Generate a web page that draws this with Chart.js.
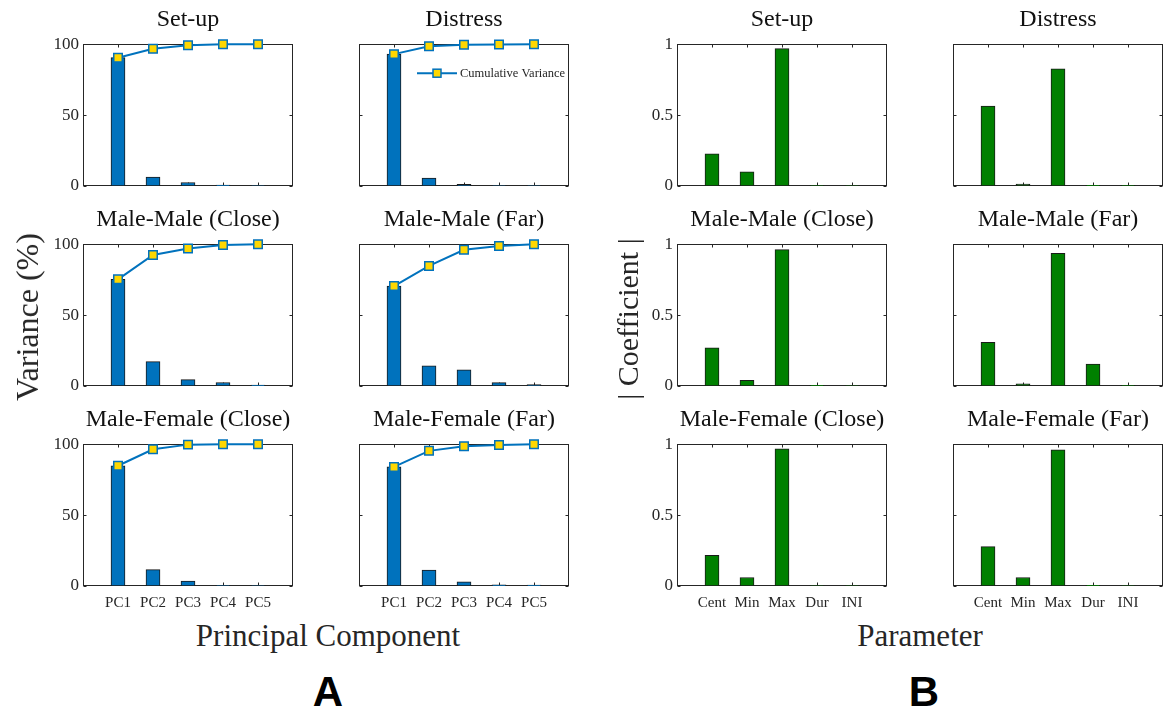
<!DOCTYPE html>
<html>
<head>
<meta charset="utf-8">
<script src="https://cdn.jsdelivr.net/npm/chart.js@4"></script>
<style>
  body { margin: 0; background: #fff; width: 1165px; height: 715px; position: relative; overflow: hidden; }
  canvas { position: absolute; }
  .txt { position: absolute; white-space: nowrap; line-height: 1; color: #262626; font-family: "Liberation Serif", serif; transform: translate(-50%, -50%); }
  .ttl { position: absolute; white-space: nowrap; line-height: 24px; height: 24px; color: #111; font-family: "Liberation Serif", serif; font-size: 24px; text-align: center; width: 260px; }
  .big { position: absolute; font-family: "Liberation Sans", Arial, sans-serif; font-weight: bold; font-size: 42px; color: #000; line-height: 1; transform: translate(-50%, -50%); }
</style>
</head>
<body>
<script>
// --- data ---
const pcLabels = ['PC1', 'PC2', 'PC3', 'PC4', 'PC5'];
const paramLabels = ['Cent', 'Min', 'Max', 'Dur', 'INI'];
const panelTitles = ['Set-up', 'Distress', 'Male-Male (Close)', 'Male-Male (Far)', 'Male-Female (Close)', 'Male-Female (Far)'];

// variance explained per component (%)
const varSetup   = [90.5, 6.3, 2.5, 0.6, 0.1];
const varDistress = [93.0, 5.6, 1.1, 0.2, 0.1];
const varMMClose = [75.2, 17.2, 4.5, 2.5, 0.6];
const varMMFar   = [70.5, 14.2, 11.4, 2.4, 1.0];
const varMFClose = [84.8, 11.6, 3.5, 0.3, 0.1];
const varMFFar   = [84.0, 11.3, 3.0, 0.8, 0.6];

// cumulative variance (%)
const cumSetup   = [90.5, 96.8, 99.3, 99.9, 100];
const cumDistress = [93.0, 98.6, 99.6, 99.8, 100];
const cumMMClose = [75.2, 92.4, 96.9, 99.4, 100];
const cumMMFar   = [70.5, 84.7, 96.1, 98.8, 100];
const cumMFClose = [84.8, 96.4, 99.7, 99.9, 100];
const cumMFFar   = [84.0, 95.3, 98.6, 99.4, 100];

// |coefficient| per parameter
const coefSetup   = [0.226, 0.10, 0.969, 0.003, 0.002];
const coefDistress = [0.563, 0.014, 0.826, 0.005, 0.004];
const coefMMClose = [0.27, 0.04, 0.962, 0.005, 0.002];
const coefMMFar   = [0.308, 0.016, 0.935, 0.155, 0.004];
const coefMFClose = [0.217, 0.06, 0.967, 0.001, 0.001];
const coefMFFar   = [0.278, 0.06, 0.96, 0.005, 0.002];

const varSets = [varSetup, varDistress, varMMClose, varMMFar, varMFClose, varMFFar];
const cumSets = [cumSetup, cumDistress, cumMMClose, cumMMFar, cumMFClose, cumMFFar];
const coefSets = [coefSetup, coefDistress, coefMMClose, coefMMFar, coefMFClose, coefMFFar];

// --- layout (plot box positions in the page) ---
const colsA = [83, 359];
const colsB = [677, 953];
const rowsY = [42, 242, 442];
const boxW = 210, boxH = 144;
const padL = 45, padT = 12, padR = 12, padB = 30;

const SERIF = '"Liberation Serif", "Times New Roman", serif';
const BLUE = '#0072BD';

// pad 5 values with empty slots on both ends so ticks sit at 1..5 of 0..6
function padded(arr) { return [null].concat(arr, [null]); }

// MATLAB-like box with inward ticks
const boxPlugin = {
    id: 'boxPlugin',
    beforeDatasetsDraw(chart) {
        const ctx = chart.ctx;
        const a = chart.chartArea;
        const xs = chart.scales.x, ys = chart.scales.y;
        ctx.save();
        ctx.strokeStyle = '#262626';
        ctx.lineWidth = 1;
        const L = Math.round(a.left) + 0.5, R = Math.round(a.right) - 0.5;
        const T = Math.round(a.top) + 0.5, B = Math.round(a.bottom) - 0.5;
        ctx.strokeRect(L, T, R - L, B - T);
        ctx.beginPath();
        for (let i = 1; i <= 5; i++) {
            const x = Math.round(xs.getPixelForValue(i)) + 0.5;
            ctx.moveTo(x, B); ctx.lineTo(x, B - 3);
            ctx.moveTo(x, T); ctx.lineTo(x, T + 3);
        }
        ys.ticks.forEach(t => {
            const y = Math.round(ys.getPixelForValue(t.value)) + 0.5;
            ctx.moveTo(L, y); ctx.lineTo(L + 3, y);
            ctx.moveTo(R, y); ctx.lineTo(R - 3, y);
        });
        ctx.stroke();
        ctx.restore();
    }
};

// legend for the cumulative line, drawn inside the Distress panel
const legendPlugin = {
    id: 'cumLegend',
    afterDraw(chart) {
        if (!chart.options.plugins.cumLegend || !chart.options.plugins.cumLegend.show) return;
        const ctx = chart.ctx;
        const a = chart.chartArea;
        const x0 = a.left + 58, y0 = a.top + 29;
        ctx.save();
        ctx.strokeStyle = BLUE;
        ctx.lineWidth = 2;
        ctx.beginPath();
        ctx.moveTo(x0, y0); ctx.lineTo(x0 + 40, y0);
        ctx.stroke();
        ctx.fillStyle = '#FFD700';
        ctx.lineWidth = 1.5;
        ctx.fillRect(x0 + 16, y0 - 4, 8, 8);
        ctx.strokeRect(x0 + 16, y0 - 4, 8, 8);
        ctx.fillStyle = '#262626';
        ctx.font = '12.5px ' + SERIF;
        ctx.textBaseline = 'middle';
        ctx.fillText('Cumulative Variance', x0 + 43, y0 + 1);
        ctx.restore();
    }
};

function makePanel(left, top, opts) {
    const cv = document.createElement('canvas');
    const W = padL + boxW + padR, H = padT + boxH + padB;
    cv.width = W; cv.height = H;
    cv.style.left = (left - padL) + 'px';
    cv.style.top = (top - padT) + 'px';
    cv.style.width = W + 'px'; cv.style.height = H + 'px';
    document.body.appendChild(cv);

    const datasets = [];
    if (opts.cum) {
        datasets.push({
            type: 'line',
            data: padded(opts.cum),
            borderColor: BLUE,
            borderWidth: 2,
            pointStyle: 'rect',
            pointRadius: 6,
            pointBorderWidth: 1.5,
            pointBorderColor: BLUE,
            pointBackgroundColor: '#FFD700',
            clip: false,
            order: 0
        });
    }
    datasets.push({
        type: 'bar',
        data: padded(opts.values),
        backgroundColor: opts.color,
        borderColor: '#1a1a1a',
        borderWidth: 1,
        borderSkipped: false,
        barThickness: 14,
        order: 1
    });

    new Chart(cv, {
        data: { labels: [''].concat(opts.labels, ['']), datasets: datasets },
        options: {
            responsive: false,
            animation: false,
            devicePixelRatio: 1,
            layout: { padding: { left: 0, top: padT, right: padR, bottom: 0 } },
            plugins: {
                legend: { display: false },
                tooltip: { enabled: false },
                cumLegend: { show: !!opts.legend }
            },
            scales: {
                x: {
                    type: 'category',
                    offset: false,
                    grid: { display: false, drawTicks: false },
                    border: { display: false },
                    afterFit: s => { s.height = padB; },
                    ticks: {
                        display: opts.showX,
                        autoSkip: false,
                        maxRotation: 0,
                        padding: 8,
                        color: '#262626',
                        font: { family: SERIF, size: 15 }
                    }
                },
                y: {
                    min: 0,
                    max: opts.max,
                    grid: { display: false, drawTicks: false },
                    border: { display: false },
                    afterFit: s => { s.width = padL; },
                    ticks: {
                        stepSize: opts.max / 2,
                        padding: 4,
                        color: '#262626',
                        font: { family: SERIF, size: 17 },
                        callback: v => opts.showY ? String(v) : ''
                    }
                }
            }
        },
        plugins: [boxPlugin, legendPlugin]
    });
}

function addText(cls, txt, x, y, style) {
    const d = document.createElement('div');
    d.className = cls;
    d.textContent = txt;
    d.style.left = x + 'px';
    d.style.top = y + 'px';
    Object.assign(d.style, style || {});
    document.body.appendChild(d);
}

for (let i = 0; i < 6; i++) {
    const r = Math.floor(i / 2), c = i % 2;
    const top = rowsY[r];
    // panel A: variance
    makePanel(colsA[c], top, {
        labels: pcLabels, values: varSets[i], cum: cumSets[i], color: BLUE,
        max: 100, showY: c === 0, showX: r === 2, legend: i === 1
    });
    // panel B: coefficients
    makePanel(colsB[c], top, {
        labels: paramLabels, values: coefSets[i], color: '#008000',
        max: 1, showY: c === 0, showX: r === 2
    });
    addText('ttl', panelTitles[i], colsA[c] + boxW / 2 - 130, top - 36);
    addText('ttl', panelTitles[i], colsB[c] + boxW / 2 - 130, top - 36);
}

addText('txt', 'Variance (%)', 27, 317, { fontSize: '32px', transform: 'translate(-50%, -50%) rotate(-90deg)' });
addText('txt', '| Coefficient |', 628, 319, { fontSize: '30px', transform: 'translate(-50%, -50%) rotate(-90deg)' });
addText('txt', 'Principal Component', 328, 635, { fontSize: '31px' });
addText('txt', 'Parameter', 920, 635, { fontSize: '31px' });
addText('big', 'A', 328, 692);
addText('big', 'B', 924, 692);
</script>
</body>
</html>
